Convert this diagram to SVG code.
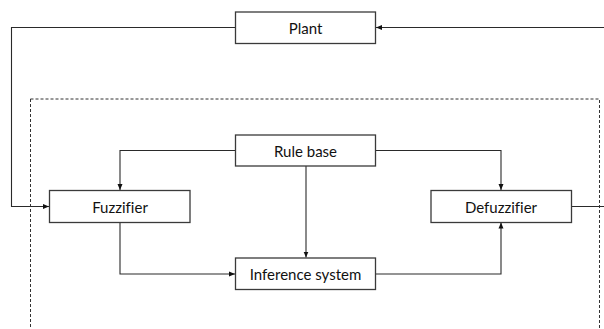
<svg xmlns="http://www.w3.org/2000/svg" width="604" height="329" viewBox="0 0 604 329">
<style>
.box{fill:#fff;stroke:#3a3a3a;stroke-width:1.3}
.lbl{font-family:Lato,"Liberation Sans",sans-serif;font-size:15px;fill:#111;text-anchor:middle;dominant-baseline:central;font-variant-ligatures:none}
.ln{fill:none;stroke:#2a2a2a;stroke-width:1.1}
</style>
<defs>
<marker id="ah" markerWidth="6" markerHeight="6" refX="6" refY="3" orient="auto" markerUnits="userSpaceOnUse">
<path d="M0,0.5 L6,3 L0,5.5 Z" fill="#111"/>
</marker>
</defs>
<rect x="30.5" y="99" width="569" height="240" fill="none" stroke="#333" stroke-width="1" stroke-dasharray="3,2"/>
<g id="connectors">
<path class="ln" d="M604,27.5 H376" marker-end="url(#ah)"/>
<path class="ln" d="M235.5,27.5 H11.5 V206.5 H49" marker-end="url(#ah)"/>
<path class="ln" d="M235.5,150.5 H120 V190" marker-end="url(#ah)"/>
<path class="ln" d="M376,150.5 H501 V190" marker-end="url(#ah)"/>
<path class="ln" d="M306,166 V257.5" marker-end="url(#ah)"/>
<path class="ln" d="M120,222.5 V274 H235" marker-end="url(#ah)"/>
<path class="ln" d="M376,274 H501 V222.5" marker-end="url(#ah)"/>
<path class="ln" d="M571.5,206.5 H604"/>
</g>
<g id="plant"><rect class="box" x="235.5" y="12" width="140" height="31.5"/><text class="lbl" x="305.5" y="28">Plant</text></g>
<g id="rulebase"><rect class="box" x="235.5" y="135" width="140" height="31"/><text class="lbl" x="305.5" y="150.5">Rule base</text></g>
<g id="fuzzifier"><rect class="box" x="49.5" y="190.5" width="140.5" height="32"/><text class="lbl" x="120" y="206.5">Fuzzifier</text></g>
<g id="defuzzifier"><rect class="box" x="431" y="190.5" width="140.5" height="32"/><text class="lbl" x="501" y="206.5">Defuzzifier</text></g>
<g id="inference"><rect class="box" x="235.5" y="258" width="140" height="31.5"/><text class="lbl" x="305.5" y="274">Inference system</text></g>
</svg>
